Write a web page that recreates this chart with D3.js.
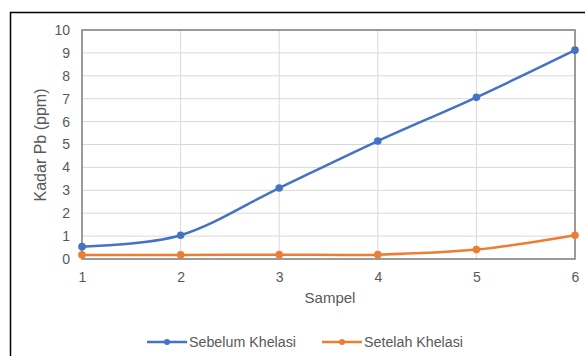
<!DOCTYPE html>
<html>
<head>
<meta charset="utf-8">
<script src="https://cdn.jsdelivr.net/npm/d3@7"></script>
<style>
  html, body { margin: 0; padding: 0; background: #fff; }
  svg { display: block; }
  text { font-family: "Liberation Sans", Arial, sans-serif; fill: #595959; }
</style>
</head>
<body>
<svg id="chart" width="585" height="356"></svg>
<script>
// Kadar Pb per sampel, sebelum dan sesudah khelasi
const samples = [1, 2, 3, 4, 5, 6];
const sebelum = [0.54, 1.04, 3.1, 5.15, 7.06, 9.12];
const setelah = [0.18, 0.18, 0.19, 0.19, 0.41, 1.04];
const yTicks = [0, 1, 2, 3, 4, 5, 6, 7, 8, 9, 10];
const seriesNames = ["Sebelum Khelasi", "Setelah Khelasi"];
const seriesColors = ["#4472c4", "#ed7d31"];

const svg = d3.select("#chart");
const W = 585, H = 356;
const m = { left: 82, right: 10, top: 30, bottom: 97 };
const pw = W - m.left - m.right, ph = H - m.top - m.bottom;

// outer chart frame
svg.append("path")
  .attr("d", `M10.5,${H + 2} L10.5,12.5 L${W + 2},12.5`)
  .attr("fill", "none").attr("stroke", "#000").attr("stroke-width", 1.5);

const x = d3.scaleLinear().domain([1, 6]).range([m.left, m.left + pw]);
const y = d3.scaleLinear().domain([0, 10]).range([m.top + ph, m.top]);

// grid
const g = svg.append("g");
g.selectAll("line.h").data(yTicks).join("line")
  .attr("x1", m.left).attr("x2", m.left + pw)
  .attr("y1", d => y(d)).attr("y2", d => y(d))
  .attr("stroke", "#d9d9d9").attr("stroke-width", 1);
g.selectAll("line.v").data(samples).join("line")
  .attr("y1", m.top).attr("y2", m.top + ph)
  .attr("x1", d => x(d)).attr("x2", d => x(d))
  .attr("stroke", "#d9d9d9").attr("stroke-width", 1);

// plot border
svg.append("rect")
  .attr("x", m.left).attr("y", m.top).attr("width", pw).attr("height", ph)
  .attr("fill", "none").attr("stroke", "#7f7f7f").attr("stroke-width", 1.5);

// axes
const yAxis = d3.axisLeft(y).tickValues(yTicks).tickSize(0).tickPadding(12);
const ya = svg.append("g").attr("transform", `translate(${m.left},0)`).call(yAxis);
ya.select(".domain").remove();
ya.selectAll("text").style("font-size", "14px").attr("fill", "#595959");

const xAxis = d3.axisBottom(x).tickValues(samples).tickFormat(d3.format("d")).tickSize(0).tickPadding(13);
const xa = svg.append("g").attr("transform", `translate(0,${m.top + ph})`).call(xAxis);
xa.select(".domain").remove();
xa.selectAll("text").style("font-size", "14px").attr("fill", "#595959");

// axis titles
svg.append("text").attr("x", 330).attr("y", 303)
  .attr("text-anchor", "middle").style("font-size", "15px").text("Sampel");
svg.append("text")
  .attr("transform", `translate(46,145) rotate(-90)`)
  .attr("text-anchor", "middle").style("font-size", "16px").text("Kadar Pb (ppm)");

// series
const line = d3.line().x((d, i) => x(samples[i])).y(d => y(d)).curve(d3.curveCatmullRom.alpha(0));
[sebelum, setelah].forEach((vals, k) => {
  const s = svg.append("g");
  s.append("path").datum(vals).attr("d", line)
    .attr("fill", "none").attr("stroke", seriesColors[k]).attr("stroke-width", 2.5)
    .attr("stroke-linecap", "round");
  s.selectAll("circle").data(vals).join("circle")
    .attr("cx", (d, i) => x(samples[i])).attr("cy", d => y(d)).attr("r", 3.8)
    .attr("fill", seriesColors[k]);
});

// legend
const legendX = [147, 322];
const legendY = 342;
seriesNames.forEach((name, k) => {
  const lg = svg.append("g").attr("transform", `translate(${legendX[k]},${legendY})`);
  lg.append("line").attr("x1", 0).attr("x2", 40).attr("y1", 0).attr("y2", 0)
    .attr("stroke", seriesColors[k]).attr("stroke-width", 2.5);
  lg.append("circle").attr("cx", 20).attr("cy", 0).attr("r", 3).attr("fill", seriesColors[k]);
  lg.append("text").attr("x", 42).attr("y", 5).style("font-size", "14px")
    .attr("textLength", k === 0 ? 107 : 99).attr("lengthAdjust", "spacingAndGlyphs")
    .text(name);
});
</script>
</body>
</html>
